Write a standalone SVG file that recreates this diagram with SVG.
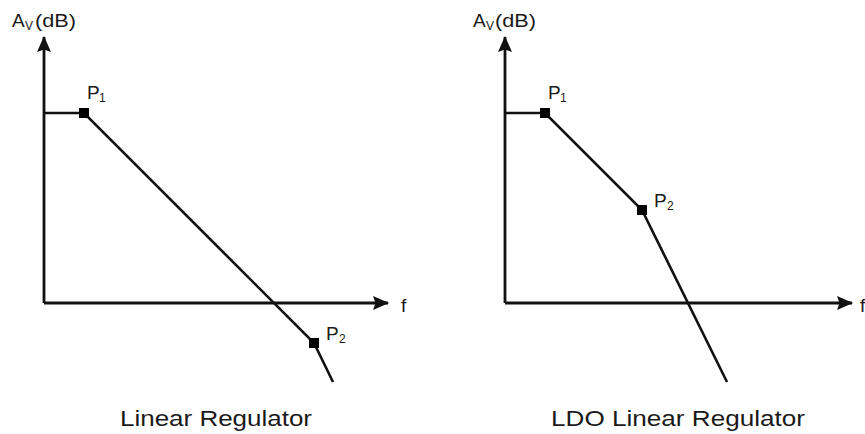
<svg xmlns="http://www.w3.org/2000/svg" width="865" height="434" viewBox="0 0 865 434">
<style>
.ax{stroke:#111;stroke-width:2.8;fill:none}
.cv{stroke:#111;stroke-width:2.6;fill:none}
.pt{fill:#000}
text{font-family:"Liberation Sans",Arial,sans-serif;fill:#1a1a1a}
.lbl{font-size:19px}
.sub{font-size:12px}
.cap{font-size:22px}
</style>
<defs>
<marker id="arr" viewBox="0 0 16 14" refX="15" refY="7" markerWidth="16" markerHeight="14" markerUnits="userSpaceOnUse" orient="auto">
<path d="M0,0 L16,7 L0,14 L2.5,7 Z" fill="#111"/>
</marker>
</defs>
<g id="connectors">
<line class="ax" x1="44" y1="303" x2="44" y2="37" marker-end="url(#arr)"/>
<line class="ax" x1="44" y1="303" x2="388" y2="303" marker-end="url(#arr)"/>
<polyline class="cv" points="44,113 84,113 314,343 333,382"/>
<line class="ax" x1="505" y1="303" x2="505" y2="37" marker-end="url(#arr)"/>
<line class="ax" x1="505" y1="303" x2="852" y2="303" marker-end="url(#arr)"/>
<polyline class="cv" points="505,113 545,113 642,210 727,382"/>
</g>
<g id="left-chart">
<g id="left-ylabel"><text class="lbl" x="12" y="27">A</text><text class="sub" x="25" y="30">V</text><text class="lbl" x="35" y="27" textLength="41" lengthAdjust="spacingAndGlyphs">(dB)</text></g>
<g id="left-xlabel"><text class="lbl" x="401" y="312">f</text></g>
<g id="left-p1"><rect class="pt" x="79" y="108" width="10" height="10"/><text class="lbl" x="87" y="99">P</text><text class="sub" x="99" y="102">1</text></g>
<g id="left-p2"><rect class="pt" x="309" y="338" width="10" height="10"/><text class="lbl" x="326" y="340">P</text><text class="sub" x="339" y="343">2</text></g>
<g id="left-caption"><text class="cap" x="120" y="426" textLength="192" lengthAdjust="spacingAndGlyphs">Linear Regulator</text></g>
</g>
<g id="right-chart">
<g id="right-ylabel"><text class="lbl" x="473" y="27">A</text><text class="sub" x="486" y="30">V</text><text class="lbl" x="495" y="27" textLength="41" lengthAdjust="spacingAndGlyphs">(dB)</text></g>
<g id="right-xlabel"><text class="lbl" x="860" y="312">f</text></g>
<g id="right-p1"><rect class="pt" x="540" y="108" width="10" height="10"/><text class="lbl" x="548" y="99">P</text><text class="sub" x="560" y="102">1</text></g>
<g id="right-p2"><rect class="pt" x="637" y="205" width="10" height="10"/><text class="lbl" x="654" y="207">P</text><text class="sub" x="667" y="210">2</text></g>
<g id="right-caption"><text class="cap" x="551" y="426" textLength="254" lengthAdjust="spacingAndGlyphs">LDO Linear Regulator</text></g>
</g>
</svg>
